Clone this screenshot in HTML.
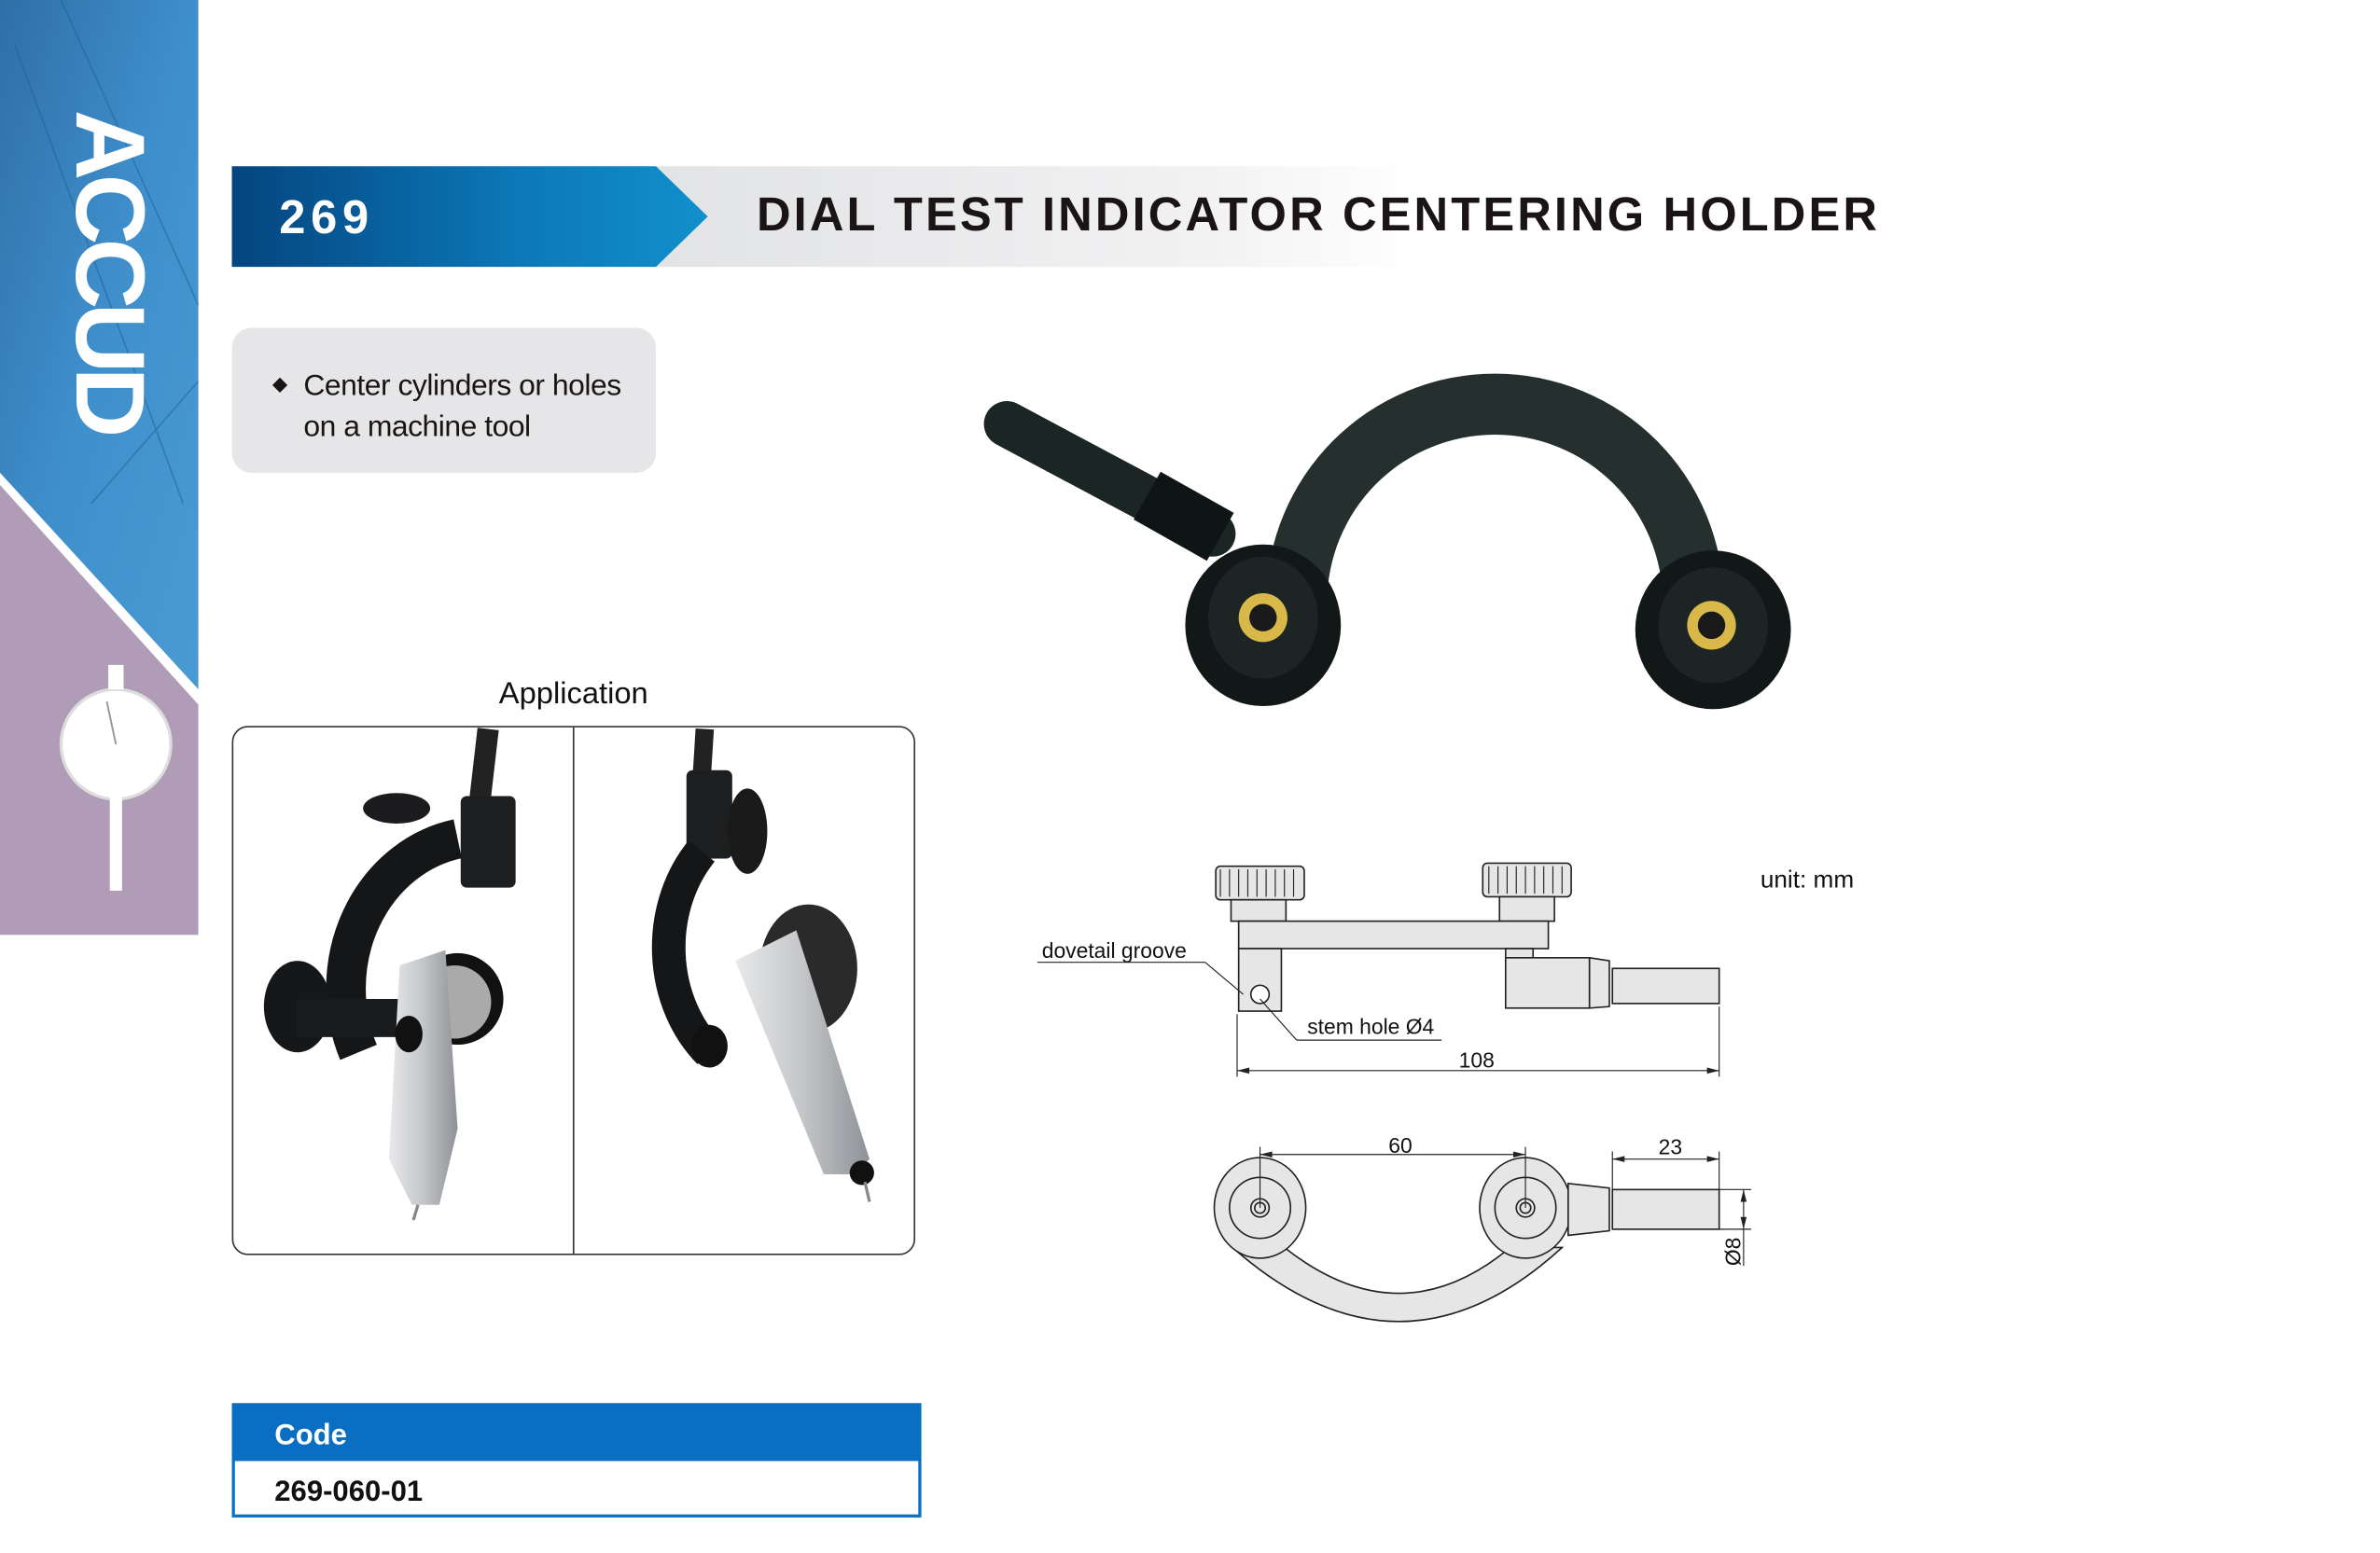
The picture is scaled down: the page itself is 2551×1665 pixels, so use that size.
<!DOCTYPE html>
<html><head><meta charset="utf-8"><style>
html,body{margin:0;padding:0;background:#fff;}
svg{display:block;}
text{font-family:"Liberation Sans",Arial,sans-serif;}
</style></head><body>
<svg width="2551" height="1665" viewBox="0 0 1560.2 1018.3" preserveAspectRatio="none" xmlns="http://www.w3.org/2000/svg">
<defs>
<linearGradient id="hb" x1="0" x2="1" y1="0" y2="0"><stop offset="0" stop-color="#04457f"/><stop offset="0.6" stop-color="#0c78b8"/><stop offset="1" stop-color="#1190cc"/></linearGradient>
<linearGradient id="hg" x1="0" x2="1"><stop offset="0" stop-color="#e2e3e5"/><stop offset="0.7" stop-color="#f1f1f2"/><stop offset="1" stop-color="#fff"/></linearGradient>
<linearGradient id="sb" x1="0" x2="1" y1="0" y2="1"><stop offset="0" stop-color="#2f6fa8"/><stop offset="0.5" stop-color="#3f8fcc"/><stop offset="1" stop-color="#4a9ad2"/></linearGradient>
<linearGradient id="met" x1="0" x2="1"><stop offset="0" stop-color="#e8e9eb"/><stop offset="0.5" stop-color="#c4c6c9"/><stop offset="1" stop-color="#8e9196"/></linearGradient>
</defs>
<rect x="0" y="0" width="130" height="613" fill="#b09cb6"/>
<polygon points="0,0 130,0 130,452 0,310" fill="url(#sb)"/>
<polygon points="0,310 130,452 130,462 0,318" fill="#fff"/>
<g stroke="#1f5f95" stroke-width="1" opacity="0.5">
<line x1="40" y1="0" x2="130" y2="200"/><line x1="10" y1="30" x2="120" y2="330"/><line x1="60" y1="330" x2="130" y2="250"/>
</g>
<text x="0" y="0" transform="translate(50,72) rotate(90)" font-size="64" font-weight="bold" fill="#fff" letter-spacing="-4">ACCUD</text>
<circle cx="76" cy="488" r="36" fill="#fff" stroke="#ddd" stroke-width="2"/>
<rect x="71" y="436" width="10" height="16" fill="#fff"/>
<rect x="72" y="522" width="8" height="62" fill="#fff"/>
<line x1="76" y1="488" x2="70" y2="460" stroke="#999" stroke-width="1.2"/>
<rect x="430" y="109" width="500" height="66" fill="url(#hg)"/>
<polygon points="152,109 430,109 464,142 430,175 152,175" fill="url(#hb)"/>
<text x="183" y="153" font-size="31" font-weight="bold" fill="#fff" letter-spacing="3.5">269</text>
<text x="496" y="151" font-size="31" font-weight="bold" fill="#1a1414" letter-spacing="1.9">DIAL TEST INDICATOR CENTERING HOLDER</text>
<rect x="152" y="215" width="278" height="95" rx="13" fill="#e6e6e8"/>
<rect x="180" y="249" width="7" height="7" transform="rotate(45 183.5 252.5)" fill="#1a1414"/>
<text x="199" y="259" font-size="19.5" fill="#1a1414" letter-spacing="-0.3">Center cylinders or holes</text>
<text x="199" y="286" font-size="19.5" fill="#1a1414" letter-spacing="-0.3">on a machine tool</text>
<text x="376" y="461" font-size="20" fill="#111" text-anchor="middle">Application</text>
<rect x="152.5" y="476.5" width="447" height="346" rx="10" fill="#fff" stroke="#333" stroke-width="1"/>
<line x1="376" y1="477" x2="376" y2="822" stroke="#333" stroke-width="1"/>
<path d="M320,478 L314,530" stroke="#222" stroke-width="14"/>
<rect x="302" y="522" width="36" height="60" rx="4" fill="#1c1e20"/>
<path d="M300,550 A90,100 0 0 0 235,690" stroke="#151617" stroke-width="26" fill="none"/>
<ellipse cx="260" cy="530" rx="22" ry="10" fill="#1c1c1e"/>
<ellipse cx="195" cy="660" rx="22" ry="30" fill="#161718"/>
<rect x="195" y="655" width="80" height="25" fill="#1a1b1c"/>
<circle cx="300" cy="655" r="30" fill="#111"/>
<circle cx="298" cy="657" r="24" fill="#aaa"/>
<polygon points="262,633 292,623 300,740 288,790 270,790 255,760" fill="url(#met)"/>
<ellipse cx="268" cy="678" rx="9" ry="12" fill="#111"/>
<line x1="274" y1="790" x2="271" y2="800" stroke="#888" stroke-width="2"/>
<path d="M462,478 L460,510" stroke="#222" stroke-width="12"/>
<rect x="450" y="505" width="30" height="58" rx="4" fill="#1c1e20"/>
<ellipse cx="490" cy="545" rx="13" ry="28" fill="#1a1a1a"/>
<path d="M460,558 A75,90 0 0 0 465,690" stroke="#151617" stroke-width="22" fill="none"/>
<ellipse cx="465" cy="686" rx="12" ry="14" fill="#111"/>
<ellipse cx="530" cy="635" rx="32" ry="42" fill="#2a2a2b"/>
<polygon points="482,630 522,610 570,760 560,770 540,770" fill="url(#met)"/>
<circle cx="565" cy="769" r="8" fill="#111"/>
<line x1="567" y1="775" x2="570" y2="788" stroke="#888" stroke-width="2"/>
<line x1="660" y1="278" x2="795" y2="350" stroke="#1b2624" stroke-width="30" stroke-linecap="round"/>
<line x1="752" y1="325" x2="800" y2="352" stroke="#0f1515" stroke-width="36"/>
<path d="M830,395 A150,150 0 0 1 1130,395 L1090,395 A110,110 0 0 0 870,395 Z" fill="#25302e"/>
<ellipse cx="828" cy="410" rx="51" ry="53" fill="#111817"/>
<ellipse cx="828" cy="405" rx="36" ry="40" fill="#1c2523"/>
<circle cx="828" cy="405" r="16" fill="#d9b84a"/>
<circle cx="828" cy="405" r="9" fill="#1a1a1a"/>
<ellipse cx="1123" cy="413" rx="51" ry="52" fill="#111817"/>
<ellipse cx="1123" cy="410" rx="36" ry="38" fill="#1c2523"/>
<circle cx="1122" cy="410" r="16" fill="#d9b84a"/>
<circle cx="1122" cy="410" r="9" fill="#1a1a1a"/>
<g stroke="#222" stroke-width="1" fill="#e6e6e6">
<rect x="797" y="568" width="58" height="22" rx="3"/>
<rect x="972" y="566" width="58" height="22" rx="3"/>
<rect x="807" y="590" width="36" height="14"/>
<rect x="983" y="588" width="36" height="16"/>
<rect x="812" y="604" width="203" height="18"/>
<rect x="812" y="622" width="28" height="41"/>
<rect x="987" y="622" width="18" height="8"/>
<rect x="987" y="628" width="55" height="33"/>
<polygon points="1042,628 1055,630 1055,660 1042,661"/>
<rect x="1057" y="635" width="70" height="23"/>
<circle cx="826" cy="652" r="6" fill="#fff"/>
</g>
<g stroke="#222" stroke-width="0.7">
<line x1="800" y1="570" x2="800" y2="588"/><line x1="806" y1="570" x2="806" y2="588"/><line x1="812" y1="570" x2="812" y2="588"/><line x1="818" y1="570" x2="818" y2="588"/><line x1="824" y1="570" x2="824" y2="588"/><line x1="830" y1="570" x2="830" y2="588"/><line x1="836" y1="570" x2="836" y2="588"/><line x1="842" y1="570" x2="842" y2="588"/><line x1="848" y1="570" x2="848" y2="588"/>
<line x1="976" y1="568" x2="976" y2="586"/><line x1="982" y1="568" x2="982" y2="586"/><line x1="988" y1="568" x2="988" y2="586"/><line x1="994" y1="568" x2="994" y2="586"/><line x1="1000" y1="568" x2="1000" y2="586"/><line x1="1006" y1="568" x2="1006" y2="586"/><line x1="1012" y1="568" x2="1012" y2="586"/><line x1="1018" y1="568" x2="1018" y2="586"/><line x1="1024" y1="568" x2="1024" y2="586"/>
<line x1="811" y1="665" x2="811" y2="706"/><line x1="1127" y1="660" x2="1127" y2="706"/>
<line x1="811" y1="702" x2="1127" y2="702"/>
<line x1="680" y1="631" x2="790" y2="631"/><line x1="790" y1="631" x2="815" y2="652"/>
<line x1="850" y1="682" x2="945" y2="682"/><line x1="850" y1="682" x2="826" y2="655"/>
</g>
<polygon points="811,702 819,700 819,704" fill="#222"/><polygon points="1127,702 1119,700 1119,704" fill="#222"/>
<g font-size="14" fill="#111">
<text x="683" y="628">dovetail groove</text>
<text x="857" y="678">stem hole Ø4</text>
<text x="968" y="700" text-anchor="middle">108</text>
<text x="1154" y="582" font-size="16">unit: mm</text>
<text x="918" y="756" text-anchor="middle">60</text>
<text x="1095" y="757" text-anchor="middle">23</text>
<text transform="translate(1141,830) rotate(-90)">Ø8</text>
</g>
<g stroke="#222" stroke-width="1" fill="#e6e6e6">
<path d="M808,818 Q918,915 1024,818 L990,818 Q918,878 842,818 Z"/>
<ellipse cx="826" cy="792" rx="30" ry="33"/>
<circle cx="826" cy="792" r="20"/>
<circle cx="826" cy="792" r="6"/><circle cx="826" cy="792" r="3.5"/>
<ellipse cx="1000" cy="792" rx="30" ry="33"/>
<circle cx="1000" cy="792" r="20"/>
<circle cx="1000" cy="792" r="6"/><circle cx="1000" cy="792" r="3.5"/>
<polygon points="1028,776 1055,779 1055,807 1028,810"/>
<rect x="1057" y="780" width="70" height="26"/>
</g>
<g stroke="#222" stroke-width="0.7">
<line x1="826" y1="752" x2="826" y2="792"/><line x1="1000" y1="752" x2="1000" y2="792"/>
<line x1="826" y1="757" x2="1000" y2="757"/>
<line x1="1057" y1="755" x2="1057" y2="780"/><line x1="1127" y1="755" x2="1127" y2="780"/>
<line x1="1057" y1="760" x2="1127" y2="760"/>
<line x1="1127" y1="780" x2="1148" y2="780"/><line x1="1127" y1="806" x2="1148" y2="806"/>
<line x1="1143" y1="780" x2="1143" y2="830"/>
</g>
<polygon points="826,757 834,755 834,759" fill="#222"/><polygon points="1000,757 992,755 992,759" fill="#222"/>
<polygon points="1057,760 1065,758 1065,762" fill="#222"/><polygon points="1127,760 1119,758 1119,762" fill="#222"/>
<polygon points="1143,780 1141,788 1145,788" fill="#222"/><polygon points="1143,806 1141,798 1145,798" fill="#222"/>
<rect x="152" y="920" width="452" height="37" fill="#0a6fc2"/>
<text x="180" y="947" font-size="19" font-weight="bold" fill="#fff">Code</text>
<rect x="153" y="957" width="450" height="37" fill="#fff" stroke="#0a6fc2" stroke-width="2"/>
<text x="180" y="984" font-size="19" font-weight="bold" fill="#111">269-060-01</text>
</svg>
</body></html>
